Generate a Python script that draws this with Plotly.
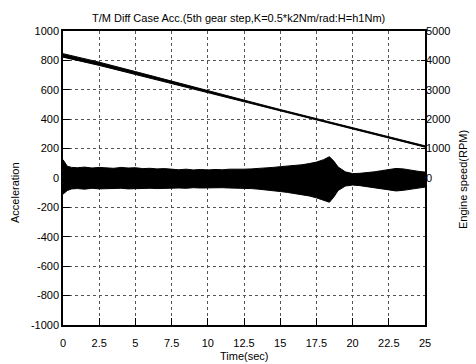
import plotly.graph_objects as go

# --- data ---
time_env = [0.0, 0.3, 0.6, 1.0, 1.5, 2.0, 2.5, 3.0, 3.5, 4.0, 4.5, 5.0, 5.5, 6.0, 6.5, 7.0,
            7.5, 8.0, 8.5, 9.0, 9.5, 10.0, 10.5, 11.0, 11.5, 12.0, 12.5, 13.0, 13.5, 14.0,
            14.5, 15.0, 15.5, 16.0, 16.5, 17.0, 17.5, 18.0, 18.4, 18.7, 19.0, 19.5, 20.0,
            20.5, 21.0, 21.5, 22.0, 22.5, 23.0, 23.5, 24.0, 24.5, 25.0]
acc_upper = [125, 80, 72, 70, 74, 68, 72, 70, 66, 72, 68, 70, 64, 66, 62, 64,
             60, 56, 60, 55, 58, 55, 58, 56, 60, 58, 60, 62, 64, 68,
             72, 77, 80, 85, 90, 98, 108, 125, 145, 115, 75, 42, 30,
             32, 36, 42, 50, 58, 65, 62, 52, 46, 40]
acc_lower = [-110, -85, -74, -72, -76, -70, -74, -72, -75, -70, -74, -72, -74, -70, -72, -70,
             -70, -68, -70, -66, -68, -66, -68, -66, -68, -68, -70, -72, -76, -80,
             -86, -92, -98, -105, -112, -122, -135, -150, -165, -130, -85, -55, -48,
             -52, -60, -68, -75, -82, -88, -84, -75, -68, -62]

time_rpm = [0.0, 1.0, 2.5, 5.0, 7.5, 10.0, 12.5, 15.0, 17.5, 20.0, 22.5, 25.0]
rpm_upper = [4230, 4120, 3940, 3620, 3290, 2970, 2650, 2330, 2020, 1710, 1400, 1095]
rpm_lower = [4110, 4000, 3830, 3520, 3210, 2900, 2590, 2280, 1970, 1665, 1355, 1050]

x_ticks = [0, 2.5, 5, 7.5, 10, 12.5, 15, 17.5, 20, 22.5, 25]
x_labels = ["0", "2.5", "5", "7.5", "10", "12.5", "15", "17.5", "20", "22.5", "25"]
acc_ticks = [-1000, -800, -600, -400, -200, 0, 200, 400, 600, 800, 1000]
acc_labels = ["-1000", "-800", "-600", "-400", "-200", "0", "200", "400", "600", "800", "1000"]
rpm_ticks = [0, 1000, 2000, 3000, 4000, 5000]
rpm_labels = ["0", "1000", "2000", "3000", "4000", "5000"]

FONT = "Liberation Sans, Arial, sans-serif"
L, R, T, B = 63, 51, 31, 39
W, H = 476, 364
PW, PH = W - L - R, H - T - B


def px_x(x):
    return (x - L) / PW


def px_y(y):
    return (H - B - y) / PH


fig = go.Figure()
fig.add_trace(go.Scatter(x=time_env, y=acc_lower, mode="lines",
                         line=dict(color="black", width=1), showlegend=False, hoverinfo="skip"))
fig.add_trace(go.Scatter(x=time_env, y=acc_upper, mode="lines", fill="tonexty",
                         fillcolor="black", line=dict(color="black", width=1),
                         showlegend=False, hoverinfo="skip"))
fig.add_trace(go.Scatter(x=time_rpm, y=rpm_lower, mode="lines", yaxis="y2",
                         line=dict(color="black", width=1), showlegend=False, hoverinfo="skip"))
fig.add_trace(go.Scatter(x=time_rpm, y=rpm_upper, mode="lines", yaxis="y2", fill="tonexty",
                         fillcolor="black", line=dict(color="black", width=1),
                         showlegend=False, hoverinfo="skip"))

fig.update_layout(
    width=W, height=H,
    margin=dict(l=L, r=R, t=T, b=B),
    paper_bgcolor="white", plot_bgcolor="white",
    font=dict(family=FONT, size=11, color="black"),
    xaxis=dict(range=[0, 25], tickvals=x_ticks, ticktext=x_labels,
               showgrid=True, gridcolor="#555", griddash="dot", gridwidth=1,
               ticks="inside", ticklen=7, tickcolor="black", tickwidth=1,
               showline=True, linecolor="black", linewidth=1.5, mirror=True,
               zeroline=False, tickfont=dict(size=11), ticklabelstandoff=7),
    yaxis=dict(range=[-1000, 1000], tickvals=acc_ticks, ticktext=acc_labels,
               showgrid=True, gridcolor="#555", griddash="dot", gridwidth=1,
               ticks="inside", ticklen=7, tickcolor="black", tickwidth=1,
               showline=True, linecolor="black", linewidth=1.5, mirror=True,
               zeroline=False, tickfont=dict(size=11)),
    yaxis2=dict(range=[-5000, 5000], tickvals=rpm_ticks, ticktext=rpm_labels,
                overlaying="y", side="right", showgrid=False, zeroline=False,
                ticks="inside", ticklen=4, tickcolor="black",
                showline=False, tickfont=dict(size=11), ticklabelstandoff=0),
    annotations=[
        dict(text="T/M Diff Case Acc.(5th gear step,K=0.5*k2Nm/rad:H=h1Nm)",
             x=px_x(238), y=px_y(18), xref="paper", yref="paper", showarrow=False,
             xanchor="center", yanchor="middle", font=dict(size=11)),
        dict(text="Time(sec)", x=px_x(244), y=px_y(356), xref="paper", yref="paper",
             showarrow=False, xanchor="center", yanchor="middle", font=dict(size=11)),
        dict(text="Acceleration", x=px_x(15), y=px_y(193), xref="paper", yref="paper",
             textangle=-90, showarrow=False, xanchor="center", yanchor="middle",
             font=dict(size=11)),
        dict(text="Engine speed(RPM)", x=px_x(463), y=px_y(180), xref="paper", yref="paper",
             textangle=-90, showarrow=False, xanchor="center", yanchor="middle",
             font=dict(size=11)),
    ],
)

fig.write_html("out.html")
